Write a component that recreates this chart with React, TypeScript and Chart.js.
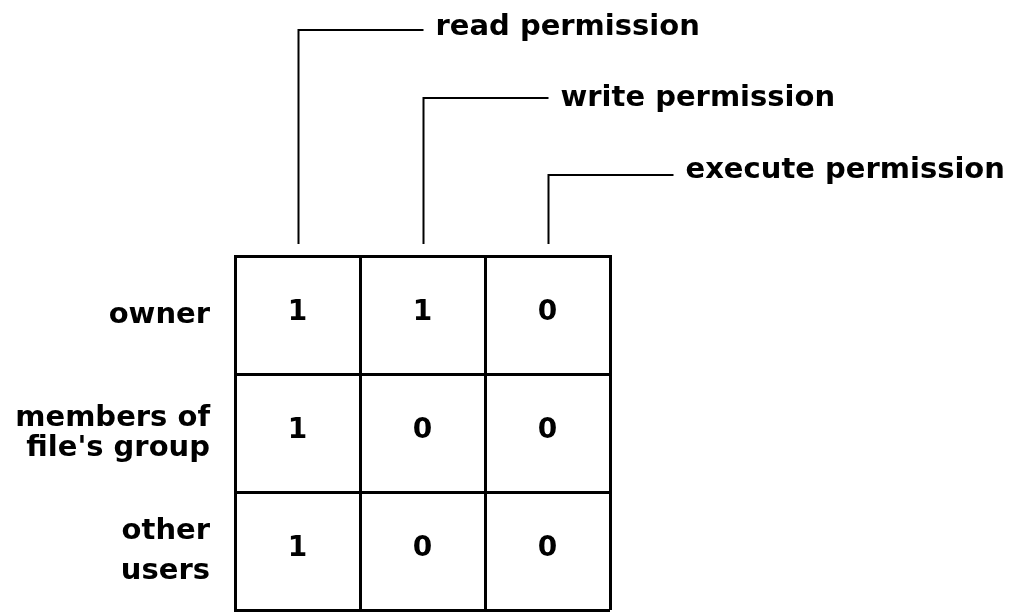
import React, { useEffect, useRef } from "react";
import { Chart, registerables } from "chart.js";

Chart.register(...registerables);

// ---- data ----
const columnLabels = ["read permission", "write permission", "execute permission"];
const rowLabels: (string | string[])[] = ["owner", ["members of", "file's group"], ["other", "users"]];
const ownerBits = [1, 1, 0];
const groupBits = [1, 0, 0];
const otherBits = [1, 0, 0];

// ---- layout constants (pixels) ----
const W = 1019;
const H = 612;
const GRID_LEFT = 235;
const GRID_TOP = 256;
const GRID_RIGHT = 610;
const GRID_BOTTOM = 610;
const LEADER_Y = [30, 98, 175];
const LABEL_BASE = [35, 106, 178];
const FONT_FAMILY = '"DejaVu Sans", "Liberation Sans", Arial, sans-serif';

const rowKeys = rowLabels.map((l) => (Array.isArray(l) ? l.join(" ") : l));

const leaderPlugin = {
  id: "leaders",
  afterDraw(chart: any) {
    const { ctx, chartArea } = chart;
    const xs = chart.scales.x;
    ctx.save();
    ctx.strokeStyle = "#000";
    ctx.fillStyle = "#000";
    ctx.lineWidth = 2;
    ctx.font = `bold 29px ${FONT_FAMILY}`;
    ctx.textAlign = "left";
    ctx.textBaseline = "alphabetic";
    columnLabels.forEach((label, j) => {
      const cx = Math.round(xs.getPixelForValue(j)) + 0.5;
      const ly = LEADER_Y[j];
      ctx.beginPath();
      ctx.moveTo(cx, chartArea.top - 12);
      ctx.lineTo(cx, ly);
      ctx.lineTo(cx + 125, ly);
      ctx.stroke();
      ctx.fillText(label, cx + 137, LABEL_BASE[j]);
    });
    // cell values
    const meta = chart.getDatasetMeta(0);
    const ds = chart.data.datasets[0].data as any[];
    ctx.font = `bold 28px ${FONT_FAMILY}`;
    ctx.textAlign = "center";
    ctx.textBaseline = "middle";
    meta.data.forEach((pt: any, k: number) => {
      ctx.fillText(String(ds[k].v), pt.x, pt.y - 2);
    });
    ctx.restore();
  },
};

export default function App() {
  const ref = useRef<HTMLCanvasElement>(null);
  useEffect(() => {
    document.body.style.margin = "0";
    const rows = [ownerBits, groupBits, otherBits];
    const points: any[] = [];
    rows.forEach((bits, i) =>
      bits.forEach((v, j) => points.push({ x: columnLabels[j], y: rowKeys[i], v }))
    );
    const chart = new Chart(ref.current!, {
      type: "scatter",
      data: {
        datasets: [
          {
            data: points,
            pointRadius: 0,
            pointHoverRadius: 0,
          },
        ],
      },
      options: {
        animation: false,
        responsive: false,
        events: [],
        layout: { padding: { left: 0, top: 0, right: W - GRID_RIGHT, bottom: H - GRID_BOTTOM } },
        plugins: { legend: { display: false }, tooltip: { enabled: false } },
        scales: {
          x: {
            type: "category",
            labels: columnLabels,
            position: "top",
            offset: true,
            grid: { offset: true, color: "#000", lineWidth: 3, drawTicks: false },
            border: { display: true, color: "#000", width: 3 },
            ticks: { display: false },
            afterFit: (s: any) => {
              s.height = GRID_TOP;
              s.paddingLeft = 0;
              s.paddingRight = 0;
            },
          },
          y: {
            type: "category",
            labels: rowKeys,
            position: "left",
            offset: true,
            grid: { offset: true, color: "#000", lineWidth: 3, drawTicks: false },
            border: { display: true, color: "#000", width: 3 },
            ticks: {
              color: "#000",
              padding: 25,
              callback: (_v: any, i: number) => rowLabels[i],
              font: (c: any) => ({
                family: FONT_FAMILY,
                size: 29,
                weight: "bold",
                lineHeight: c.index === 2 ? "40px" : "30px",
              }),
            },
            afterFit: (s: any) => {
              s.width = GRID_LEFT;
              s.paddingTop = 0;
              s.paddingBottom = 0;
            },
          },
        },
      } as any,
      plugins: [leaderPlugin],
    });
    return () => chart.destroy();
  }, []);
  return (
    <div style={{ width: W, height: H, background: "#fff" }}>
      <canvas ref={ref} width={W} height={H} style={{ display: "block" }} />
    </div>
  );
}
